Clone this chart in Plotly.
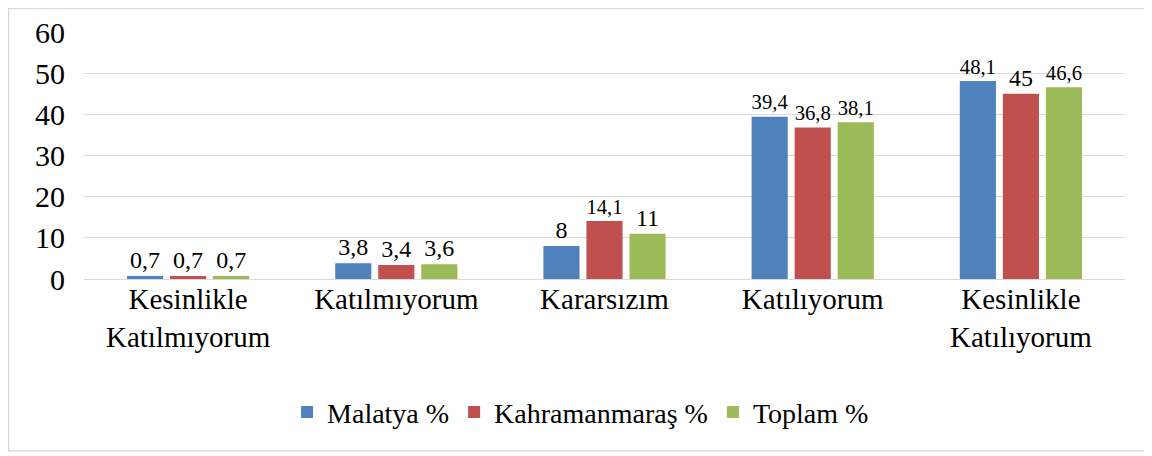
import plotly.graph_objects as go

categories = ["Kesinlikle<br>Katılmıyorum", "Katılmıyorum", "Kararsızım",
              "Katılıyorum", "Kesinlikle<br>Katılıyorum"]
malatya = [0.7, 3.8, 8, 39.4, 48.1]
kahramanmaras = [0.7, 3.4, 14.1, 36.8, 45]
toplam = [0.7, 3.6, 11, 38.1, 46.6]

series = [
    ("Malatya %", malatya, "#4f81bd"),
    ("Kahramanmaraş %", kahramanmaras, "#c0504d"),
    ("Toplam %", toplam, "#9bbb59"),
]

FONT = "Liberation Serif, Times New Roman, serif"

def fmt(v):
    # Turkish decimal comma
    return f"{v:g}".replace(".", ",")

fig = go.Figure()
for name, vals, color in series:
    fig.add_trace(go.Bar(
        x=categories,
        y=vals,
        name=name,
        marker=dict(color=color, line=dict(width=0)),
        text=[fmt(v) for v in vals],
        textposition="outside",
        textfont=dict(family=FONT, size=24, color="#000000"),
        cliponaxis=False,
    ))

# page has an 8px body margin, so the figure is a bit smaller and shifted
W, H = 1144, 448
fig.update_layout(
    width=W, height=H,
    margin=dict(l=76, r=27, t=24, b=177, autoexpand=False),
    barmode="group",
    bargap=0.38,
    bargroupgap=0.16,
    plot_bgcolor="white",
    paper_bgcolor="white",
    font=dict(family=FONT, size=29, color="#000000"),
    showlegend=True,
    legend=dict(orientation="h", x=0.477, xanchor="center", y=-0.54, yanchor="middle",
                font=dict(family=FONT, size=28), traceorder="normal"),
    xaxis=dict(showline=False, ticks="", automargin=False, tickfont=dict(family=FONT, size=29)),
    yaxis=dict(range=[0, 60], dtick=10, showgrid=True, gridcolor="#d9d9d9", gridwidth=1,
               zeroline=True, zerolinecolor="#d9d9d9", zerolinewidth=1, automargin=False,
               ticks="", tickfont=dict(family=FONT, size=30), ticklabelstandoff=18),
    shapes=[dict(type="rect", xref="paper", yref="paper",
                 x0=(0.5 - 76) / 1041, x1=(1137 - 76) / 1041,
                 y0=(271 - 443) / 247, y1=(271 - 0.5) / 247,
                 line=dict(color="#d9d9d9", width=1.5), fillcolor="rgba(0,0,0,0)", layer="below")],
)

fig.write_html("out.html")
